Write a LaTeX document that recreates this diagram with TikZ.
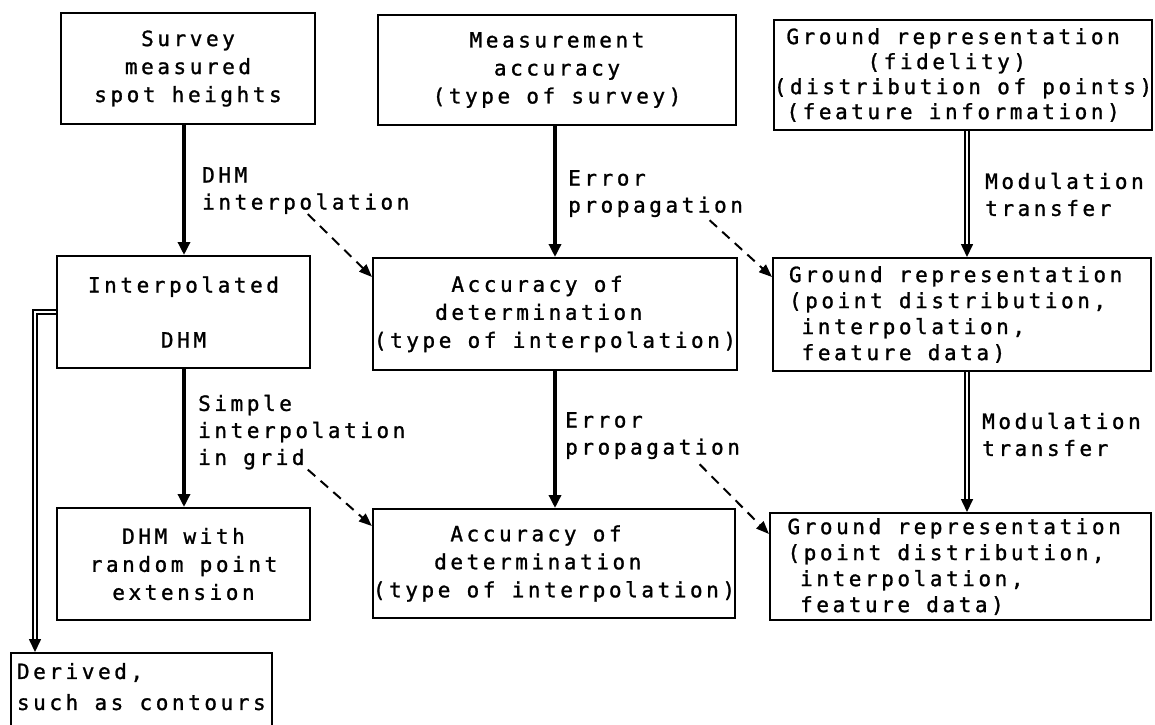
\documentclass[tikz,border=0pt]{standalone}
\usepackage{fontspec}
\newfontfamily\typefont[LetterSpace=17,FakeBold=1.2]{DejaVu Sans Mono}
\usetikzlibrary{arrows.meta,calc,positioning}
\tikzset{
    box/.style={draw, line width=2pt, inner sep=0pt, align=center,
        font=\typefont\fontsize{21}{28}\selectfont},
    box4/.style={box, align=left, font=\typefont\fontsize{21}{26}\selectfont},
    boxdim/.style 2 args={minimum width=#1, minimum height=#2},
    lab/.style={inner sep=0pt, align=left, anchor=north west,
        font=\typefont\fontsize{21}{27}\selectfont},
    solidarr/.style={line width=3.5pt, -{Triangle[length=13pt,width=12pt]}},
    dblarr/.style={double, double distance=2pt, line width=1.6pt,
        -{Triangle[length=13pt,width=12pt]}},
    dasharr/.style={dash pattern=on 10pt off 7pt, line width=2pt,
        -{Triangle[length=13pt,width=10pt]}}
}

\begin{document}
\begin{tikzpicture}[x=1pt, y=-1pt]
    \clip (0,0) rectangle (1155,724);

    % Top row of boxes.
    \node[box, boxdim={254}{111}] (survey) at (188,68.5) {Survey\\measured\\spot heights};
    \node[box, boxdim={358}{110}] (measacc) at (557,70) {Measurement\\accuracy\\(type of survey)};
    \node[box4, boxdim={377}{110}, font=\typefont\fontsize{21}{25}\selectfont] (ground) at (963,75)
        {\hphantom{(}Ground representation\\\hphantom{((((((}(fidelity)\\(distribution of points)\\\hphantom{(}(feature information)};

    % Middle row.
    \node[box, boxdim={253}{112}] (interp) at (183.5,312) {Interpolated\\[27pt]DHM};
    \node[box, align=left, boxdim={364}{112}] (accdet) at (555,314)
        {\hphantom{(((((}Accuracy of\\\hphantom{((((}determination\\(type of interpolation)};
    \node[box4, boxdim={378}{113}] (groundrep) at (962,314.5)
        {Ground representation\hphantom{(}\\(point distribution,\\\hphantom{(}interpolation,\\\hphantom{(}feature data)};

    % Bottom row.
    \node[box, boxdim={253}{112}] (random) at (183.5,564) {DHM with\\random point\\extension};
    \node[box, align=left, boxdim={362}{109}] (accdet2) at (554,563.5)
        {\hphantom{(((((}Accuracy of\\\hphantom{((((}determination\\(type of interpolation)};
    \node[box4, boxdim={381}{107}] (groundrep2) at (960.5,566.5)
        {Ground representation\hphantom{(}\\(point distribution,\\\hphantom{(}interpolation,\\\hphantom{(}feature data)};

    % Derived box, runs off the page.
    \node[box, align=left, anchor=north west, inner xsep=6pt, inner ysep=10pt,
        text depth=30pt, font=\typefont\fontsize{21}{31}\selectfont] (derived) at (10,652)
        {Derived,\\such as contours};

    % Labels beside the arrows.
    \node[lab] (dhmlab) at (202,167) {DHM\\interpolation};
    \node[lab] (errlab) at (568,170) {Error\\propagation};
    \node[lab] (modlab) at (985,172.6) {Modulation\\transfer};
    \node[lab] (simplab) at (198,394.6) {Simple\\interpolation\\in grid};
    \node[lab] (errlab2) at (565,412) {Error\\propagation};
    \node[lab] (modlab2) at (982,412.6) {Modulation\\transfer};

    % Column lines.
    \coordinate (colA) at (184,0);
    \coordinate (colB) at (555,0);
    \coordinate (colC) at (967,0);
    \coordinate (turn) at (35,0);

    % Vertical arrows.
    \draw[solidarr] (colA |- survey.south) -- (colA |- interp.north);
    \draw[solidarr] (colA |- interp.south) -- (colA |- random.north);
    \draw[solidarr] (colB |- measacc.south) -- (colB |- accdet.north);
    \draw[solidarr] (colB |- accdet.south) -- (colB |- accdet2.north);
    \draw[dblarr] (colC |- ground.south) -- (colC |- groundrep.north);
    \draw[dblarr] (colC |- groundrep.south) -- (colC |- groundrep2.north);
    \draw[dblarr] (interp.west) -| (turn |- derived.north);

    % Dashed arrows.
    \draw[dasharr] ([xshift=2pt]dhmlab.south) -- ([yshift=-20pt]accdet.north west);
    \draw[dasharr] ([xshift=54pt,yshift=-3pt]errlab.south) -- ([yshift=-20pt]groundrep.north west);
    \draw[dasharr] ([xshift=6pt]simplab.south) -- ([yshift=-18pt]accdet2.north west);
    \draw[dasharr] ([xshift=47pt,yshift=-5pt]errlab2.south) -- ([yshift=-22pt]groundrep2.north west);
\end{tikzpicture}
\end{document}
